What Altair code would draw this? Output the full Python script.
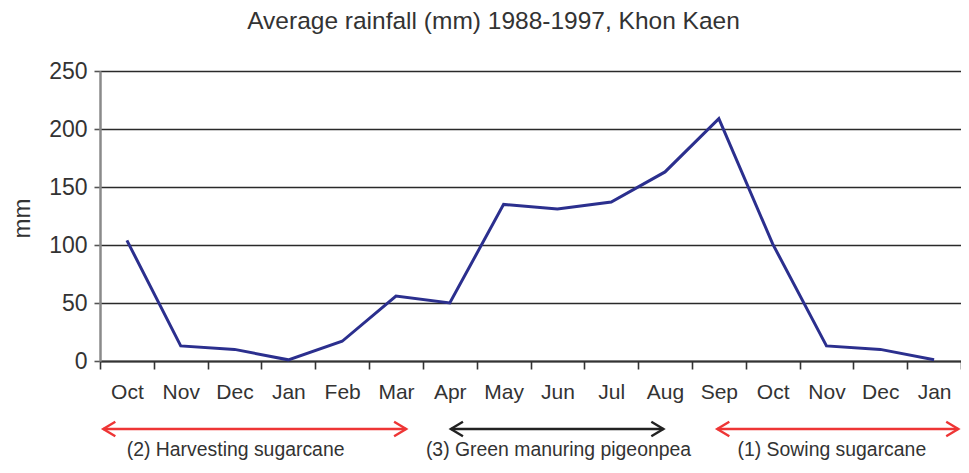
import json
import altair as alt
import pandas as pd

# ---- data ----
months = ["Oct", "Nov", "Dec", "Jan", "Feb", "Mar", "Apr", "May",
          "Jun", "Jul", "Aug", "Sep", "Oct", "Nov", "Dec", "Jan"]
rainfall = [104, 13, 10, 1, 17, 56, 50, 135, 131, 137, 163, 209, 101, 13, 10, 1]

y_ticks = [0, 50, 100, 150, 200, 250]

periods = ["(2) Harvesting sugarcane", "(3) Green manuring pigeonpea", "(1) Sowing sugarcane"]
period_start = [-0.44, 6.02, 10.97]
period_end = [5.19, 9.97, 15.45]
period_mid = [2.02, 8.02, 13.1]
period_color = ["#ee3535", "#222222", "#ee3535"]

TITLE = "Average rainfall (mm) 1988-1997, Khon Kaen"

# ---- tables ----
df = pd.DataFrame({"idx": list(range(len(months))), "month": months, "mm": rainfall})
arr = pd.DataFrame({"label": periods, "start": period_start, "end": period_end,
                    "mid": period_mid, "color": period_color})

n = len(months)
xdomain = [-0.5, n - 0.5]
xticks = [i - 0.5 for i in range(n + 1)]
W, H = 861, 290
label_expr = json.dumps(months) + "[round(datum.value + 0.5)] || ''"

FONT = "Liberation Sans"
TXT = "#333333"

xscale = alt.Scale(domain=xdomain, nice=False, zero=False)
yscale = alt.Scale(domain=[0, 250], nice=False)

line = alt.Chart(df).mark_line(color="#2b2f8e", strokeWidth=3).encode(
    x=alt.X("idx:Q", scale=xscale, title=None,
            axis=alt.Axis(values=xticks, labelExpr=label_expr, grid=False,
                          labelOffset=W / n / 2, labelFlush=False, labelOverlap=False,
                          labelBound=False, labelFontSize=21, labelFont=FONT,
                          labelColor=TXT, labelPadding=12, tickSize=8,
                          tickColor="#333333", tickWidth=1.6,
                          domainColor="#333333", domainWidth=2)),
    y=alt.Y("mm:Q", scale=yscale, title="mm",
            axis=alt.Axis(values=y_ticks, grid=True, gridColor="#2a2a2a",
                          gridWidth=1.6, labelFontSize=23, labelFont=FONT,
                          labelColor=TXT, labelPadding=7, tickSize=6,
                          tickColor="#555555", tickWidth=1.6,
                          domainColor="#8a8a8a", domainWidth=2.5,
                          titleFontSize=24, titleFont=FONT, titleColor=TXT,
                          titleFontWeight="normal", titleAngle=-90,
                          titleX=-71, titleY=147, titleAlign="center",
                          titleBaseline="alphabetic")),
)

rules = alt.Chart(arr).mark_rule(strokeWidth=2.4).encode(
    x=alt.X("start:Q", scale=xscale),
    x2="end:Q",
    y=alt.value(358),
    color=alt.Color("color:N", scale=None),
)

head_left = alt.Chart(arr).mark_point(
    shape="M1.5,-0.9L0,0L1.5,0.9", filled=False, size=260, strokeWidth=2.4, opacity=1
).encode(
    x=alt.X("start:Q", scale=xscale),
    y=alt.value(358),
    color=alt.Color("color:N", scale=None),
)

head_right = alt.Chart(arr).mark_point(
    shape="M-1.5,-0.9L0,0L-1.5,0.9", filled=False, size=260, strokeWidth=2.4, opacity=1
).encode(
    x=alt.X("end:Q", scale=xscale),
    y=alt.value(358),
    color=alt.Color("color:N", scale=None),
)

labels = alt.Chart(arr).mark_text(
    fontSize=19.4, font=FONT, color=TXT, baseline="alphabetic", align="center"
).encode(
    x=alt.X("mid:Q", scale=xscale),
    y=alt.value(385),
    text="label:N",
)

chart = alt.layer(line, rules, head_left, head_right, labels).properties(
    width=W, height=H,
    title=alt.TitleParams(TITLE, fontSize=24.5, font=FONT, color=TXT,
                          fontWeight="normal", anchor="middle", dx=-37,
                          offset=26),
    autosize=alt.AutoSizeParams(type="none"),
    padding={"left": 92, "top": 63, "right": 0, "bottom": 99},
).configure_view(stroke=None).configure(background="white")

chart.save("out.html", embed_options={"renderer": "svg", "actions": False})
